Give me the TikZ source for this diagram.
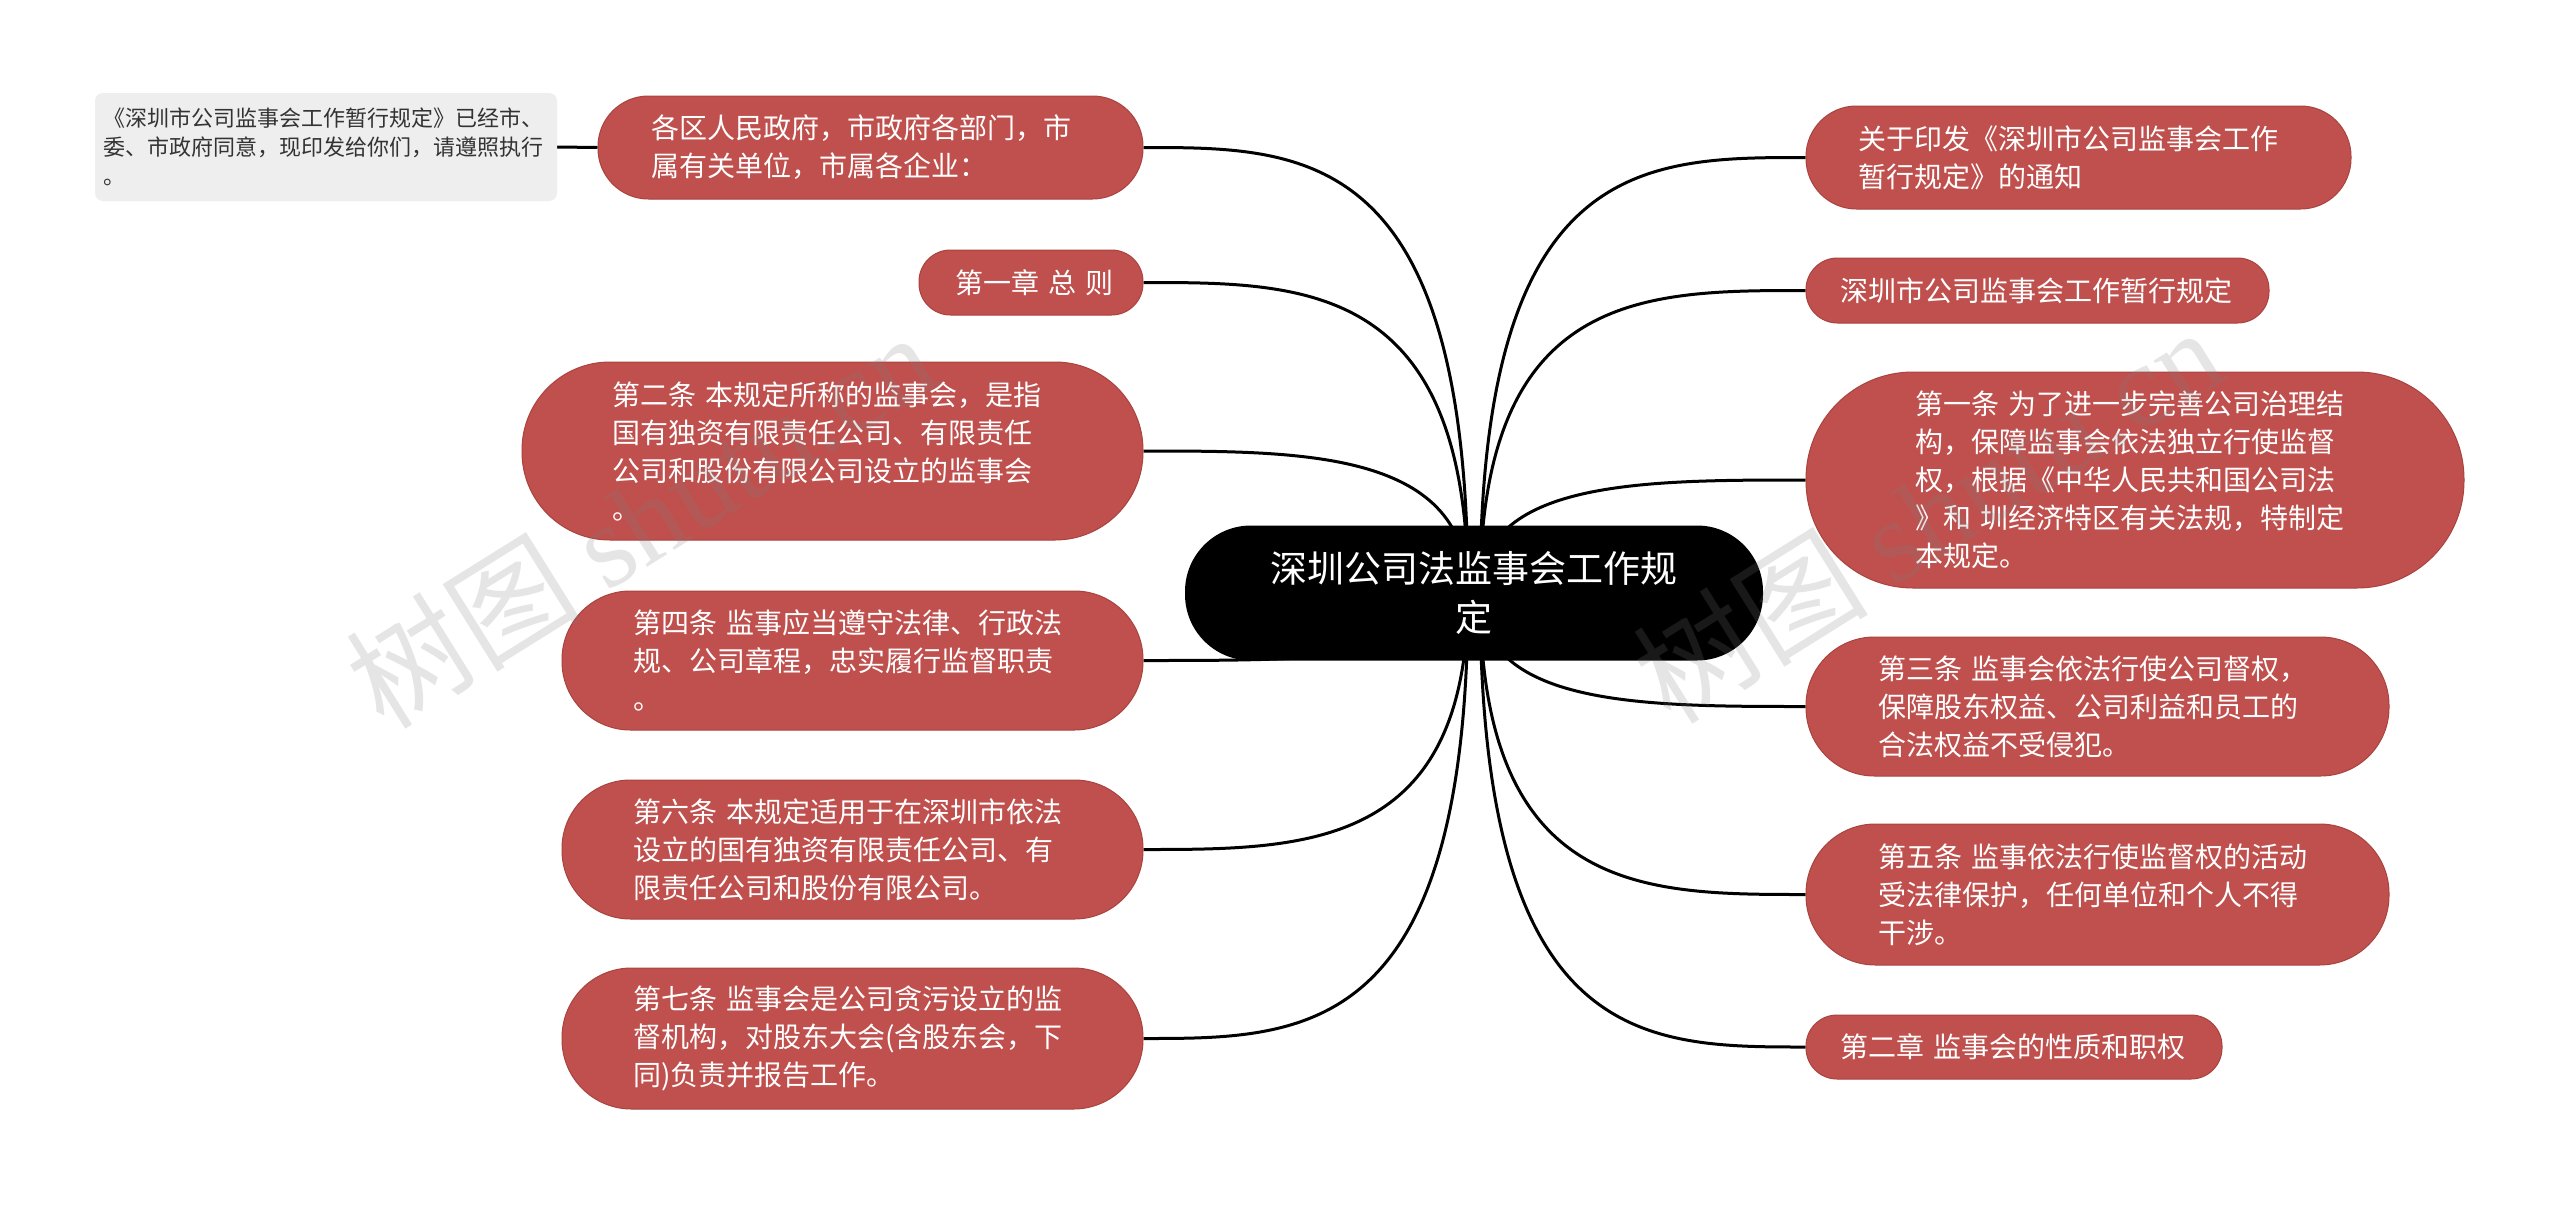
\documentclass[tikz,border=0pt]{standalone}
\usepackage{fontspec}
\setmainfont{Noto Sans CJK SC}
\newfontfamily\wmlatin{Liberation Serif}
\usetikzlibrary{calc}
\definecolor{nodered}{HTML}{BF504D}
\definecolor{nodeedge}{HTML}{A9433F}
\definecolor{greybox}{HTML}{EEEEEE}
\definecolor{greytext}{HTML}{333333}
\pgfdeclarelayer{bg}
\pgfsetlayers{bg,main}
\tikzset{
  rnode/.style={draw=nodeedge, line width=1pt, fill=nodered, text=white, align=left,
    inner sep=0pt, font=\fontsize{28}{38}\selectfont},
  gnode/.style={fill=greybox, text=greytext, align=left, inner sep=0pt,
    font=\fontsize{22}{29}\selectfont},
  cnode/.style={fill=black, text=white, align=center, inner sep=0pt,
    font=\fontsize{37}{49}\selectfont},
  link/.style={line width=3pt, black},
  wmark/.style={text=gray, opacity=0.2, rotate=32, inner sep=0pt}
}
% \rbox{name}{left}{top}{right}{bottom}{pad}{style}{text}
\newcommand\rbox[8]{%
  \pgfmathsetmacro\myBW{#4-#2}%
  \pgfmathsetmacro\myBH{#5-#3}%
  \pgfmathsetmacro\myTW{#4-#2-2*#6}%
  \pgfmathsetmacro\myR{(#5-#3)/2-1}%
  \node[#7, minimum width=\myBW pt, minimum height=\myBH pt, text width=\myTW pt,
    rounded corners=\myR pt] (#1) at ({(#2+#4)/2},{(#3+#5)/2}) {#8};%
}
\newcommand\conn[2]{%
  \draw[link] (#1) .. controls (#1 |- #2) and ($(#1 |- #2)!0.5!(#2)$) .. (#2);%
}
\begin{document}
\begin{tikzpicture}[x=1pt,y=-1pt]
\useasboundingbox (0,0) rectangle (2560,1205);

% left side
\node[gnode, minimum width=462pt, minimum height=108pt, text width=446pt,
  rounded corners=8pt] (g) at (326,147)
  {《深圳市公司监事会工作暂行规定》已经市、\\委、市政府同意，现印发给你们，请遵照执行\\。};
\rbox{l1}{598}{96}{1143}{199}{53}{rnode}{各区人民政府，市政府各部门，市\\属有关单位，市属各企业：}
\rbox{l2}{919}{250}{1143}{315}{36}{rnode}{第一章~总~则}
\rbox{l3}{522}{362}{1143}{540}{90}{rnode}{第二条~本规定所称的监事会，是指\\国有独资有限责任公司、有限责任\\公司和股份有限公司设立的监事会\\。}
\rbox{l4}{562}{591}{1143}{730}{71}{rnode}{第四条~监事应当遵守法律、行政法\\规、公司章程，忠实履行监督职责\\。}
\rbox{l5}{562}{780}{1143}{919}{71}{rnode}{第六条~本规定适用于在深圳市依法\\设立的国有独资有限责任公司、有\\限责任公司和股份有限公司。}
\rbox{l6}{562}{968}{1143}{1109}{71}{rnode}{第七条~监事会是公司贪污设立的监\\督机构，对股东大会(含股东会，下\\同)负责并报告工作。}

% right side
\rbox{r1}{1806}{106}{2351}{209}{52}{rnode}{关于印发《深圳市公司监事会工作\\暂行规定》的通知}
\rbox{r2}{1806}{258}{2269}{323}{34}{rnode}{深圳市公司监事会工作暂行规定}
\rbox{r3}{1806}{372}{2464}{588}{109}{rnode}{第一条~为了进一步完善公司治理结\\构，保障监事会依法独立行使监督\\权，根据《中华人民共和国公司法\\》和~圳经济特区有关法规，特制定\\本规定。}
\rbox{r4}{1806}{637}{2389}{776}{72}{rnode}{第三条~监事会依法行使公司督权，\\保障股东权益、公司利益和员工的\\合法权益不受侵犯。}
\rbox{r5}{1806}{824}{2389}{965}{72}{rnode}{第五条~监事依法行使监督权的活动\\受法律保护，任何单位和个人不得\\干涉。}
\rbox{r6}{1806}{1015}{2222}{1079}{34}{rnode}{第二章~监事会的性质和职权}

% center
\node[cnode, minimum width=578pt, minimum height=135pt, rounded corners=66pt]
  (c) at (1474,593) {深圳公司法监事会工作规\\定};

\coordinate (cl) at (1468,593);
\coordinate (cr) at (1480,593);

\begin{pgfonlayer}{bg}
  \fill[white] (0,0) rectangle (2560,1205);
  \draw[link] (g.east) -- (l1.west);
  \foreach \n in {l1,l2,l3,l4,l5,l6} { \conn{cl}{\n.east} }
  \foreach \n in {r1,r2,r3,r4,r5,r6} { \conn{cr}{\n.west} }
\end{pgfonlayer}

% watermarks
\node[wmark] (w1) at (640,519) {\fontsize{118}{118}\selectfont 树图 {\wmlatin shutu.cn}};
\node[wmark] (w2) at (1927,514) {\fontsize{118}{118}\selectfont 树图 {\wmlatin shutu.cn}};
\end{tikzpicture}
\end{document}
